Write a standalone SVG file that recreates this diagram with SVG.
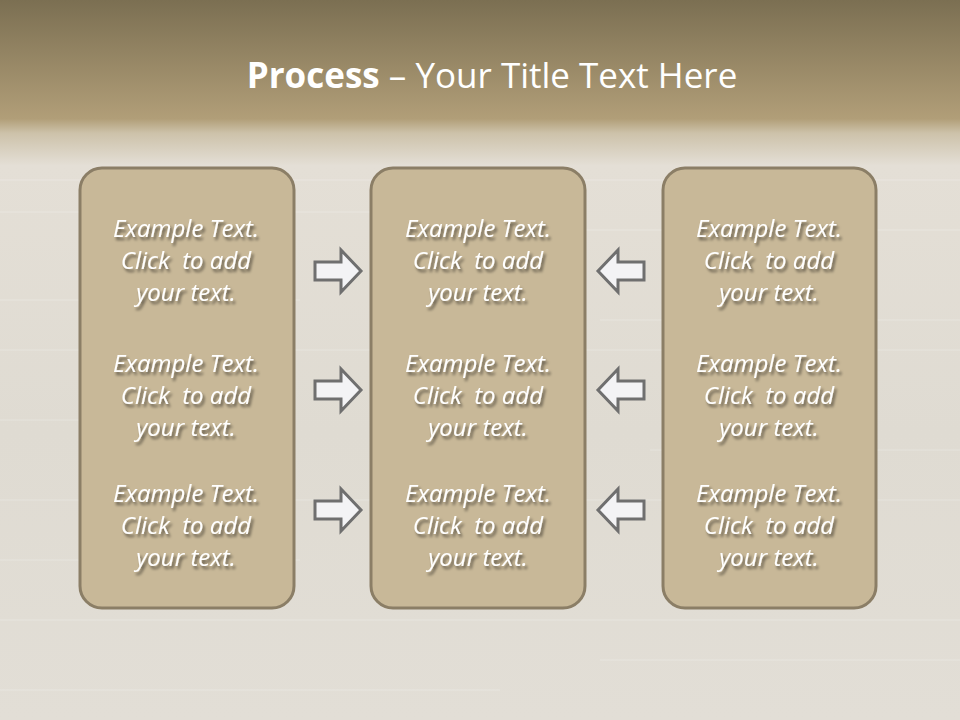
<svg xmlns="http://www.w3.org/2000/svg" width="960" height="720" viewBox="0 0 960 720">
<defs>
<linearGradient id="bg" x1="0" y1="0" x2="0" y2="1">
<stop offset="0" stop-color="#7b6f52"/>
<stop offset="0.165" stop-color="#b19e78"/>
<stop offset="0.185" stop-color="#cdc2aa"/>
<stop offset="0.23" stop-color="#e4dfd6"/>
<stop offset="0.6" stop-color="#dfdbd2"/>
<stop offset="1" stop-color="#e2ded6"/>
</linearGradient>
<filter id="sh" x="-10%" y="-10%" width="130%" height="140%">
<feGaussianBlur in="SourceAlpha" stdDeviation="1.6"/>
<feOffset dx="2" dy="3" result="b"/>
<feComponentTransfer><feFuncA type="linear" slope="0.55"/></feComponentTransfer>
<feMerge><feMergeNode/><feMergeNode in="SourceGraphic"/></feMerge>
</filter>
<path id="ar" d="M0,-9 L26,-9 L26,-21 L46,0 L26,21 L26,9 L0,9 Z"/>
</defs>
<style>
.box{fill:#c8b898;stroke:#8b7e66;stroke-width:3}
.t{font-family:"Open Sans","Noto Sans",sans-serif;font-style:italic;font-size:24px;fill:#ffffff;text-anchor:middle;filter:url(#sh);white-space:pre}
.arrow{fill:#f3f3f5;stroke:#6f6f6f;stroke-width:3}
.title{font-family:"Open Sans","Noto Sans",sans-serif;font-size:35px;fill:#ffffff;text-anchor:middle}
</style>
<rect width="960" height="720" fill="url(#bg)"/>
<g fill="none" stroke="#ffffff" stroke-opacity="0.12" stroke-width="2">
<path d="M0,180 H960 M0,212 H400 M500,230 H960 M0,300 H300 M600,320 H960 M0,350 H960 M0,420 H250 M650,450 H960 M0,500 H960 M0,560 H300 M0,620 H960 M600,660 H960 M0,690 H500"/>
</g>
<text class="title" x="492" y="88"><tspan font-weight="bold">Process</tspan> – Your Title Text Here</text>
<g id="box-left">
<rect class="box" x="80" y="168" width="214" height="440" rx="22"/>
<text class="t" x="186"><tspan x="186" y="237">Example Text.</tspan><tspan x="186" y="269">Click  to add</tspan><tspan x="186" y="301">your text.</tspan></text>
<text class="t" x="186"><tspan x="186" y="372">Example Text.</tspan><tspan x="186" y="404">Click  to add</tspan><tspan x="186" y="436">your text.</tspan></text>
<text class="t" x="186"><tspan x="186" y="502">Example Text.</tspan><tspan x="186" y="534">Click  to add</tspan><tspan x="186" y="566">your text.</tspan></text>
</g>
<g id="box-middle">
<rect class="box" x="371" y="168" width="214" height="440" rx="22"/>
<text class="t" x="478"><tspan x="478" y="237">Example Text.</tspan><tspan x="478" y="269">Click  to add</tspan><tspan x="478" y="301">your text.</tspan></text>
<text class="t" x="478"><tspan x="478" y="372">Example Text.</tspan><tspan x="478" y="404">Click  to add</tspan><tspan x="478" y="436">your text.</tspan></text>
<text class="t" x="478"><tspan x="478" y="502">Example Text.</tspan><tspan x="478" y="534">Click  to add</tspan><tspan x="478" y="566">your text.</tspan></text>
</g>
<g id="box-right">
<rect class="box" x="663" y="168" width="213" height="440" rx="22"/>
<text class="t" x="769"><tspan x="769" y="237">Example Text.</tspan><tspan x="769" y="269">Click  to add</tspan><tspan x="769" y="301">your text.</tspan></text>
<text class="t" x="769"><tspan x="769" y="372">Example Text.</tspan><tspan x="769" y="404">Click  to add</tspan><tspan x="769" y="436">your text.</tspan></text>
<text class="t" x="769"><tspan x="769" y="502">Example Text.</tspan><tspan x="769" y="534">Click  to add</tspan><tspan x="769" y="566">your text.</tspan></text>
</g>
<g id="connectors">
<use href="#ar" class="arrow" transform="translate(315,271)"/>
<use href="#ar" class="arrow" transform="translate(315,390)"/>
<use href="#ar" class="arrow" transform="translate(315,510)"/>
<use href="#ar" class="arrow" transform="translate(644,271) scale(-1,1)"/>
<use href="#ar" class="arrow" transform="translate(644,390) scale(-1,1)"/>
<use href="#ar" class="arrow" transform="translate(644,510) scale(-1,1)"/>
</g>
</svg>
